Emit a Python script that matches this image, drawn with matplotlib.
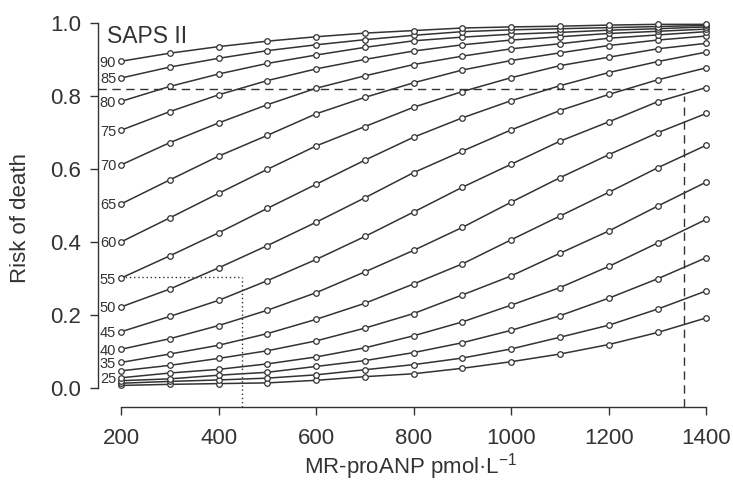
import numpy as np
import matplotlib
matplotlib.use("Agg")
import matplotlib.pyplot as plt

plt.rcParams['font.family'] = ['Liberation Sans', 'DejaVu Sans']
plt.rcParams['mathtext.fontset'] = 'custom'
plt.rcParams['mathtext.rm'] = 'Liberation Sans'
plt.rcParams['mathtext.it'] = 'Liberation Sans:italic'

# MR-proANP (pmol/L) at which each curve is evaluated
anp = [200, 300, 400, 500, 600, 700, 800, 900, 1000, 1100, 1200, 1300, 1400]

# risk of death, one list per SAPS II score
saps = [10, 15, 20, 25, 30, 35, 40, 45, 50, 55, 60, 65, 70, 75, 80, 85, 90]
risk = {
    10: [0.008, 0.011, 0.013, 0.015, 0.022, 0.032, 0.040, 0.055, 0.073, 0.094, 0.120, 0.153, 0.193],
    15: [0.014, 0.019, 0.023, 0.028, 0.037, 0.051, 0.065, 0.083, 0.108, 0.140, 0.173, 0.217, 0.267],
    20: [0.021, 0.026, 0.036, 0.044, 0.060, 0.076, 0.098, 0.125, 0.159, 0.199, 0.247, 0.300, 0.358],
    25: [0.029, 0.042, 0.052, 0.067, 0.086, 0.111, 0.144, 0.182, 0.228, 0.276, 0.334, 0.398, 0.463],
    30: [0.048, 0.063, 0.082, 0.103, 0.130, 0.165, 0.205, 0.256, 0.308, 0.370, 0.431, 0.499, 0.565],
    35: [0.071, 0.094, 0.118, 0.150, 0.189, 0.233, 0.286, 0.341, 0.407, 0.472, 0.537, 0.604, 0.666],
    40: [0.107, 0.136, 0.172, 0.214, 0.262, 0.319, 0.378, 0.441, 0.510, 0.577, 0.640, 0.700, 0.753],
    45: [0.155, 0.197, 0.241, 0.295, 0.353, 0.416, 0.483, 0.551, 0.614, 0.677, 0.730, 0.785, 0.824],
    50: [0.223, 0.272, 0.330, 0.391, 0.455, 0.522, 0.591, 0.650, 0.708, 0.761, 0.805, 0.845, 0.878],
    55: [0.302, 0.363, 0.426, 0.493, 0.559, 0.625, 0.688, 0.741, 0.788, 0.829, 0.865, 0.895, 0.921],
    60: [0.401, 0.467, 0.534, 0.600, 0.664, 0.717, 0.770, 0.813, 0.851, 0.884, 0.907, 0.930, 0.945],
    65: [0.505, 0.571, 0.636, 0.693, 0.752, 0.797, 0.837, 0.872, 0.898, 0.919, 0.939, 0.954, 0.965],
    70: [0.612, 0.673, 0.727, 0.777, 0.822, 0.856, 0.887, 0.910, 0.930, 0.944, 0.959, 0.968, 0.977],
    75: [0.707, 0.758, 0.804, 0.843, 0.875, 0.901, 0.924, 0.941, 0.954, 0.963, 0.972, 0.978, 0.984],
    80: [0.786, 0.827, 0.861, 0.890, 0.913, 0.934, 0.952, 0.962, 0.970, 0.975, 0.981, 0.985, 0.990],
    85: [0.850, 0.880, 0.904, 0.925, 0.941, 0.955, 0.967, 0.977, 0.982, 0.985, 0.988, 0.991, 0.994],
    90: [0.896, 0.918, 0.936, 0.951, 0.963, 0.973, 0.980, 0.987, 0.990, 0.992, 0.995, 0.997, 0.997],
}
labeled = [25, 35, 40, 45, 50, 55, 60, 65, 70, 75, 80, 85, 90]

# reading guides drawn on the nomogram
guide_dash_risk, guide_dash_anp = 0.82, 1355
guide_dot_risk, guide_dot_anp = 0.305, 448

xticks = [200, 400, 600, 800, 1000, 1200, 1400]
yticks = [0.0, 0.2, 0.4, 0.6, 0.8, 1.0]

ink = '#333333'

fig = plt.figure(figsize=(7.33, 4.83), dpi=100)
ax = fig.add_axes([0.1337, 0.1574, 0.8417, 0.8054])

for s in saps:
    ax.plot(anp, risk[s], '-o', color=ink, lw=1.1, ms=4, mfc='white',
            mec=ink, mew=0.9, zorder=3)

for s in labeled:
    ax.text(190, risk[s][0] - 0.004, str(s), ha='right', va='center',
            fontsize=10.5, color=ink)

x0, x1 = 152.8, 1417.8
y0, y1 = -0.051, 1.0145
ax.plot([x0, guide_dash_anp], [guide_dash_risk] * 2, color=ink, lw=1,
        dashes=(6, 4))
ax.plot([guide_dash_anp] * 2, [y0, 0.80], color=ink, lw=1, dashes=(6, 4))
ax.plot([anp[0], guide_dot_anp], [guide_dot_risk] * 2, color=ink, lw=1,
        dashes=(1, 2))
ax.plot([guide_dot_anp] * 2, [y0, guide_dot_risk], color=ink, lw=1,
        dashes=(1, 2))

ax.text(172, 0.963, 'SAPS II', ha='left', va='center', fontsize=16.5,
        color=ink)

ax.set_xlim(x0, x1)
ax.set_ylim(y0, y1)
ax.set_xticks(xticks)
ax.set_yticks(yticks)
ax.set_yticklabels(['%.1f' % v for v in yticks])
for side in ['top', 'right']:
    ax.spines[side].set_visible(False)
ax.spines['left'].set_bounds(0, 1)
ax.spines['bottom'].set_bounds(200, 1400)
for side in ['left', 'bottom']:
    ax.spines[side].set_color(ink)
    ax.spines[side].set_linewidth(1)
ax.tick_params(direction='out', length=6, width=1, colors=ink,
               labelsize=16, pad=6)
ax.tick_params(axis='x', pad=9)

ax.set_ylabel('Risk of death', fontsize=16, color=ink)
ax.yaxis.set_label_coords(-0.108, 0.486)
xl = ax.set_xlabel('MR-proANP pmol·L$^{-1}$', fontsize=16, color=ink)
xl.set_va('center')
ax.xaxis.set_label_coords(0.506, -0.153)

fig.savefig('out.png', dpi=100)
